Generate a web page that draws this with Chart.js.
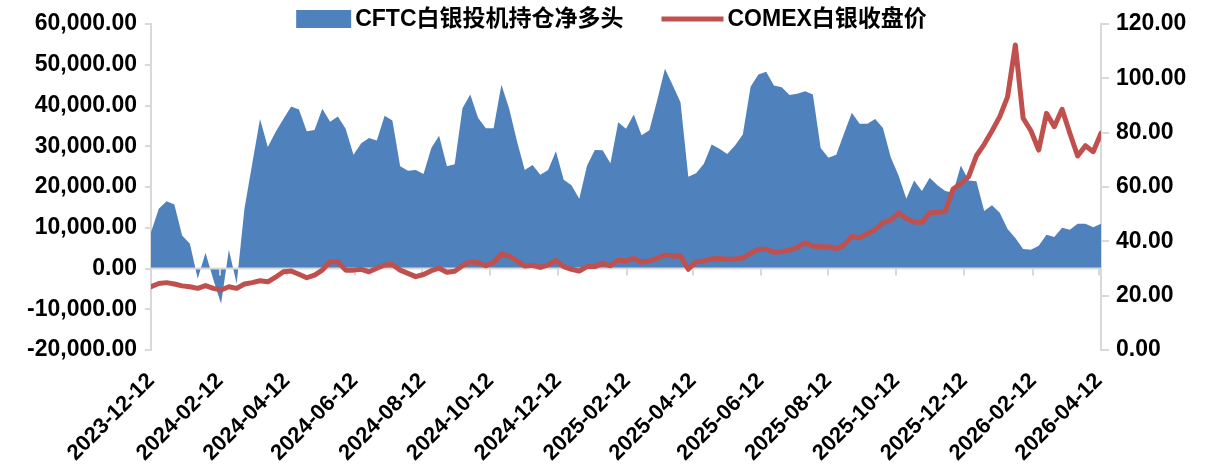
<!DOCTYPE html>
<html>
<head>
<meta charset="utf-8">
<script src="https://cdn.jsdelivr.net/npm/chart.js@4.4.1/dist/chart.umd.min.js"></script>
<style>
html, body { margin: 0; padding: 0; background: #fff; }
</style>
</head>
<body>
<canvas id="chart" width="1221" height="465"></canvas>
<script>
// weekly data, first report on this date
var startDate = '2023-12-12';

// CFTC silver speculative net long (contracts), left axis
var netLong = [
	8900, 14650, 16500, 15700, 8100, 6050, -2500, 3850, -2700, -8670,
	4600, -3750, 14650, 25700, 36700, 29800, 33500, 36700, 39750, 39000,
	33700, 34000, 39200, 36000, 37300, 34300, 27900, 30750, 32000, 31400,
	37500, 36300, 25100, 24000, 24200, 23200, 29600, 32600, 25100, 25600,
	39300, 42700, 37000, 34400, 34400, 45100, 39200, 31200, 24200, 25400,
	23000, 24200, 28800, 21800, 20400, 17100, 25300, 29100, 29000, 25800,
	35900, 34300, 37800, 32700, 33900, 41200, 49000, 45000, 40800, 22500,
	23400, 25700, 30400, 29400, 28100, 30200, 32900, 44600, 47600, 48300,
	44900, 44500, 42600, 42900, 43500, 42700, 29600, 27200, 27900, 33100,
	38200, 35500, 35500, 36700, 34500, 27300, 22800, 17100, 21600, 19000,
	22300, 20400, 19000, 18600, 25300, 21600, 21400, 14100, 15500, 13700,
	9700, 7500, 4800, 4600, 5600, 8300, 7700, 10000, 9500, 11000,
	11000, 10100, 11000
];

// COMEX silver close (USD/oz), right axis
var silverClose = [
	23.3, 24.5, 24.8, 24.3, 23.6, 23.3, 22.7, 23.7, 22.7, 22.1,
	23.3, 22.7, 24.3, 24.8, 25.5, 25.1, 26.8, 28.8, 29.1, 27.9,
	26.6, 27.6, 29.4, 32.5, 32.5, 29.4, 29.4, 29.7, 28.8, 30.1,
	31.3, 31.5, 29.4, 28.2, 27.0, 27.8, 29.2, 30.1, 28.6, 29.0,
	31.0, 32.5, 32.2, 31.0, 32.3, 35.3, 34.6, 32.8, 30.9, 31.2,
	30.4, 31.3, 33.0, 30.7, 29.7, 29.1, 30.7, 30.7, 31.9, 31.0,
	33.1, 32.8, 33.7, 32.3, 32.8, 33.7, 35.0, 34.6, 34.6, 29.7,
	32.5, 32.8, 33.5, 33.7, 33.4, 33.5, 33.9, 35.6, 37.1, 37.1,
	36.0, 36.2, 36.8, 37.7, 39.5, 38.3, 38.0, 38.0, 37.3, 38.6,
	41.8, 41.3, 42.8, 44.3, 46.9, 47.8, 50.5, 48.4, 47.1, 47.0,
	50.5, 50.7, 51.0, 59.2, 61.2, 63.8, 71.5, 75.7, 80.6, 85.9,
	93.2, 112.3, 85.3, 80.7, 73.6, 87.1, 82.2, 88.6, 79.8, 71.4,
	75.2, 73.0, 79.8
];

var tickLabels = [
	'2023-12-12', '2024-02-12', '2024-04-12', '2024-06-12', '2024-08-12',
	'2024-10-12', '2024-12-12', '2025-02-12', '2025-04-12', '2025-06-12',
	'2025-08-12', '2025-10-12', '2025-12-12', '2026-02-12', '2026-04-12'
];

var seriesNames = ['CFTC白银投机持仓净多头', 'COMEX白银收盘价'];

var blue = '#4F81BD';
var red = '#C0504D';
var axisGrey = '#D9D9D9';
var fontFamily = '"Liberation Sans", "Noto Sans CJK SC", sans-serif';

// days since the first report
function daysFrom(s) {
	return Math.round((Date.parse(s) - Date.parse(startDate)) / 86400000);
}

function toPoints(values) {
	return values.map(function(v, i) { return { x: i * 7, y: v }; });
}

function fmt(v) {
	return v.toLocaleString('en-US', { minimumFractionDigits: 2, maximumFractionDigits: 2 });
}

// zero line and category ticks, drawn over the area but under the price line
var axisMarks = {
	id: 'axisMarks',
	afterDatasetDraw: function(chart, args) {
		if (args.index !== 0) return;
		var ctx = chart.ctx;
		var area = chart.chartArea;
		var y0 = chart.scales.y.getPixelForValue(0);
		ctx.save();
		ctx.strokeStyle = axisGrey;
		ctx.lineWidth = 2;
		ctx.beginPath();
		ctx.moveTo(area.left, y0);
		ctx.lineTo(area.right, y0);
		chart.scales.x.ticks.forEach(function(t) {
			var px = Math.round(chart.scales.x.getPixelForValue(t.value));
			ctx.moveTo(px, y0);
			ctx.lineTo(px, y0 + 7);
		});
		ctx.stroke();
		ctx.restore();
	}
};

// legend above the plot, centred on the canvas
var topLegend = {
	id: 'topLegend',
	afterDraw: function(chart) {
		var ctx = chart.ctx;
		var ds = chart.data.datasets;
		ctx.save();
		ctx.font = 'bold 23px ' + fontFamily;
		ctx.textBaseline = 'middle';
		ctx.fillStyle = '#000';
		var w1 = ctx.measureText(ds[0].label).width;
		var w2 = ctx.measureText(ds[1].label).width;
		var boxW = 55, gap = 4, itemGap = 38, lineW = 62;
		var total = boxW + gap + w1 + itemGap + lineW + gap + w2;
		var x = (chart.width - total) / 2 + 1;
		var y = 19;
		ctx.fillStyle = ds[0].backgroundColor;
		ctx.fillRect(x, y - 9, boxW, 18);
		x += boxW + gap;
		ctx.fillStyle = '#000';
		ctx.fillText(ds[0].label, x, y + 1);
		x += w1 + itemGap;
		ctx.strokeStyle = ds[1].borderColor;
		ctx.lineWidth = 5;
		ctx.beginPath();
		ctx.moveTo(x, y);
		ctx.lineTo(x + lineW, y);
		ctx.stroke();
		x += lineW + gap;
		ctx.fillText(ds[1].label, x, y + 1);
		ctx.restore();
	}
};

var tickFont = { family: fontFamily, size: 23, weight: 'bold' };
var dateFont = { family: fontFamily, size: 22, weight: 'bold' };

new Chart(document.getElementById('chart'), {
	type: 'line',
	data: {
		datasets: [{
			label: seriesNames[0],
			data: toPoints(netLong),
			yAxisID: 'y',
			backgroundColor: blue,
			borderColor: blue,
			borderWidth: 0,
			fill: 'origin',
			pointRadius: 0,
			tension: 0,
			order: 2
		}, {
			label: seriesNames[1],
			data: toPoints(silverClose),
			yAxisID: 'y1',
			borderColor: red,
			backgroundColor: red,
			borderWidth: 5,
			borderJoinStyle: 'round',
			borderCapStyle: 'round',
			fill: false,
			pointRadius: 0,
			tension: 0,
			order: 1
		}]
	},
	options: {
		responsive: false,
		animation: false,
		devicePixelRatio: 1,
		layout: { padding: { top: 24, left: 0, right: 0, bottom: 0 } },
		plugins: {
			legend: { display: false },
			tooltip: { enabled: false }
		},
		scales: {
			x: {
				type: 'linear',
				min: 0,
				max: (netLong.length - 1) * 7,
				afterBuildTicks: function(scale) {
					scale.ticks = tickLabels.map(function(l) { return { value: daysFrom(l) }; });
				},
				afterFit: function(scale) { scale.height = 115; },
				grid: { display: false },
				border: { display: false },
				ticks: {
					autoSkip: false,
					minRotation: 45,
					maxRotation: 45,
					padding: 10,
					color: '#000',
					font: dateFont,
					callback: function(value, index) { return tickLabels[index]; }
				}
			},
			y: {
				position: 'left',
				min: -20000,
				max: 60000,
				afterFit: function(scale) { scale.width = 151; },
				grid: { drawOnChartArea: false, tickLength: 6, color: axisGrey, lineWidth: 2 },
				border: { display: true, color: axisGrey, width: 2 },
				ticks: {
					stepSize: 10000,
					padding: 8,
					color: '#000',
					font: tickFont,
					callback: function(v) { return fmt(v); }
				}
			},
			y1: {
				position: 'right',
				min: 0,
				max: 120,
				afterFit: function(scale) { scale.width = 120; },
				grid: { drawOnChartArea: false, tickLength: 8, color: axisGrey, lineWidth: 2 },
				border: { display: true, color: axisGrey, width: 2 },
				ticks: {
					stepSize: 20,
					padding: 7,
					color: '#000',
					font: tickFont,
					callback: function(v) { return fmt(v); }
				}
			}
		}
	},
	plugins: [axisMarks, topLegend]
});
</script>
</body>
</html>
